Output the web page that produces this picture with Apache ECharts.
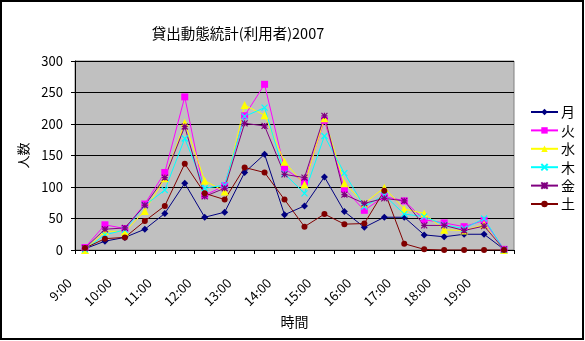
<!DOCTYPE html>
<html><head><meta charset="utf-8">
<script src="https://cdn.jsdelivr.net/npm/echarts@6/dist/echarts.min.js"></script>
<style>html,body{margin:0;padding:0;background:#fff}#c{width:585px;height:341px}</style>
</head><body><div id="c"></div>
<script>
const categories = ['9:00','9:30','10:00','10:30','11:00','11:30','12:00','12:30','13:00','13:30','14:00','14:30','15:00','15:30','16:00','16:30','17:00','17:30','18:00','18:30','19:00','19:30'];
const yTicks = [0,50,100,150,200,250,300];
const mon = [2,14,20,33,58,106,52,60,123,152,56,70,116,61,36,52,52,24,21,25,25,1];
const tue = [4,40,34,73,123,243,87,102,213,263,129,108,206,97,63,85,78,48,43,37,47,1];
const wed = [0,30,29,62,114,202,110,93,230,214,140,104,209,106,74,99,65,58,32,31,40,0];
const thu = [1,24,32,71,95,177,98,103,212,226,121,90,181,122,69,87,57,53,40,34,50,0];
const fri = [3,33,35,71,115,196,85,98,201,197,120,115,213,88,74,82,78,39,39,31,38,1];
const sat = [3,18,20,46,70,137,90,80,131,123,80,37,57,41,42,94,10,1,0,0,0,0];
const names = ['月','火','水','木','金','土'];
const colors = ['#000080','#FF00FF','#FFFF00','#00FFFF','#800080','#800000'];
const font = '"Noto Sans CJK JP", sans-serif';
const xSym = 'path://M0,0L10,10M10,0L0,10';
const starSym = 'path://M0,0L10,10M10,0L0,10M5,0L5,10M0,5L10,5';
const symbols = ['diamond','rect','triangle',xSym,starSym,'circle'];
const sizes = [7,7,8,6,6,6];
const datas = [mon,tue,wed,thu,fri,sat];
const chart = echarts.init(document.getElementById('c'));
chart.setOption({
  animation:false,
  backgroundColor:'#fff',
  title:{text:'貸出動態統計(利用者)2007',left:233,top:21,textAlign:'center',textStyle:{fontFamily:font,fontSize:14.5,fontWeight:'normal',color:'#000'}},
  graphic:[{type:'rect',shape:{x:1,y:1,width:582,height:338},style:{fill:'none',stroke:'#000',lineWidth:2},z:100}],
  legend:{orient:'vertical',left:530,top:105,padding:0,itemWidth:27,itemHeight:8,itemGap:4.4,
    textStyle:{fontFamily:font,fontSize:14,lineHeight:14,color:'#000',padding:[0,0,0,-2]},
    data:names},
  grid:{left:75,right:71,top:61,bottom:91,show:true,backgroundColor:'#C0C0C0',borderColor:'#808080',borderWidth:1},
  xAxis:{type:'category',data:categories,boundaryGap:true,
    name:'時間',nameLocation:'middle',nameGap:53,nameTextStyle:{fontFamily:font,fontSize:14,color:'#000'},
    axisLine:{lineStyle:{color:'#000',width:1}},
    axisTick:{show:true,interval:0,length:4,lineStyle:{color:'#000'}},
    axisLabel:{interval:1,rotate:45,fontFamily:font,fontSize:13,color:'#000',margin:15,padding:[0,22,0,0]}},
  yAxis:{type:'value',min:0,max:300,interval:50,
    name:'人数',nameLocation:'middle',nameGap:45,nameTextStyle:{fontFamily:font,fontSize:13,color:'#000'},
    axisLine:{show:true,lineStyle:{color:'#000',width:1}},
    axisTick:{show:true,length:4,lineStyle:{color:'#000'}},
    axisLabel:{fontFamily:font,fontSize:13,color:'#000',margin:12,formatter:v=>yTicks.includes(v)?String(v):''},
    splitLine:{show:true,lineStyle:{color:'#000',width:1}}},
  series:names.map((n,i)=>({name:n,type:'line',data:datas[i],symbol:symbols[i],symbolSize:sizes[i],
    lineStyle:{color:colors[i],width:1},
    itemStyle:{color:colors[i],borderColor:colors[i],borderWidth:(i===3||i===4)?1.2:0},
    emphasis:{disabled:true}}))
});
</script></body></html>
